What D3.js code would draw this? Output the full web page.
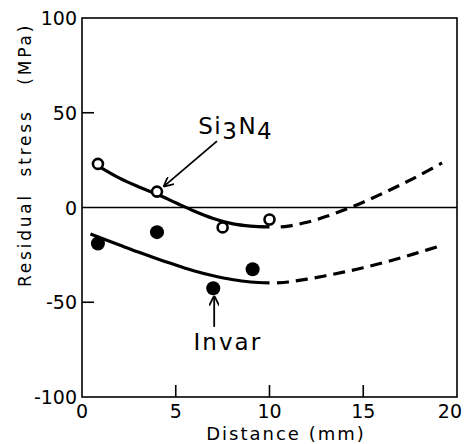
<!DOCTYPE html>
<html>
<head>
<meta charset="utf-8">
<script src="https://cdn.jsdelivr.net/npm/d3@7"></script>
<style>
  body { margin: 0; background: #fff; }
  text { font-family: 'DejaVu Sans', sans-serif; fill: #000; }
</style>
</head>
<body>
<div id="chart"></div>
<script>
const xTicks = [0, 5, 10, 15, 20];
const yTicks = [-100, -50, 0, 50, 100];

// measured points
const si3n4Points = [[0.85, 23], [4.0, 8.4], [7.5, -10.5], [10.0, -6.3]];
const invarPoints = [[0.85, -19], [4.0, -13], [7.0, -42.6], [9.1, -32.6]];

// fitted curves (solid = measured range, dashed = extrapolated)
const si3n4Solid = [[0.85, 22], [2, 15.5], [3, 11], [4, 7], [5, 2.5], [6, -2], [7, -5.8], [8, -8.5], [9, -9.8], [10, -10.2]];
const si3n4Dashed = [[10.6, -10.2], [11, -9.8], [12, -7.8], [13, -4.8], [14, -1.2], [15, 2.8], [16, 7.3], [17, 12], [18, 17], [19.2, 23.5]];
const invarSolid = [[0.45, -14], [2, -19.8], [3, -23.5], [4, -27], [5, -30.3], [6, -33.5], [7, -36], [8, -38], [9, -39.3], [10, -39.8]];
const invarDashed = [[10.4, -39.8], [11, -39.3], [12, -37.8], [13, -36], [14, -34], [15, -31.8], [16, -29.3], [17, -26.6], [18, -23.6], [19, -20.6]];

const width = 464, height = 444;
const margin = { left: 82, right: 7, top: 18, bottom: 47 };

const x = d3.scaleLinear().domain([0, 20]).range([margin.left, width - margin.right]);
const y = d3.scaleLinear().domain([-100, 100]).range([height - margin.bottom, margin.top]);

const svg = d3.select('#chart').append('svg')
  .attr('width', width)
  .attr('height', height);

// frame
svg.append('rect')
  .attr('x', x(0)).attr('y', y(100))
  .attr('width', x(20) - x(0)).attr('height', y(-100) - y(100))
  .attr('fill', 'none').attr('stroke', '#000').attr('stroke-width', 1.6);

// zero line
svg.append('line')
  .attr('x1', x(0)).attr('x2', x(20))
  .attr('y1', y(0)).attr('y2', y(0))
  .attr('stroke', '#000').attr('stroke-width', 1.5);

// inward ticks
svg.selectAll('.xtick')
  .data(xTicks.filter(d => d > 0 && d < 20))
  .enter().append('line')
  .attr('x1', d => x(d)).attr('x2', d => x(d))
  .attr('y1', y(-100)).attr('y2', y(-100) - 12)
  .attr('stroke', '#000').attr('stroke-width', 1.6);

svg.selectAll('.ytick')
  .data(yTicks.filter(d => d !== 0 && Math.abs(d) < 100))
  .enter().append('line')
  .attr('x1', x(0)).attr('x2', x(0) + 12)
  .attr('y1', d => y(d)).attr('y2', d => y(d))
  .attr('stroke', '#000').attr('stroke-width', 1.6);

// tick labels
svg.selectAll('.xlab')
  .data(xTicks)
  .enter().append('text')
  .attr('x', d => d === 20 ? width - 2 : x(d))
  .attr('y', y(-100) + 21)
  .attr('text-anchor', d => d === 20 ? 'end' : 'middle')
  .style('font-size', '19px')
  .text(d => d);

svg.selectAll('.ylab')
  .data(yTicks)
  .enter().append('text')
  .attr('x', x(0) - 5)
  .attr('y', d => y(d) + 7)
  .attr('text-anchor', 'end')
  .style('font-size', '19px')
  .text(d => d);

// axis titles
svg.append('text')
  .attr('x', 286)
  .attr('y', height - 4)
  .attr('text-anchor', 'middle')
  .style('font-size', '18px')
  .style('letter-spacing', '2px')
  .text('Distance (mm)');

svg.append('text')
  .attr('transform', 'translate(31,155) rotate(-90)')
  .attr('text-anchor', 'middle')
  .style('font-size', '17px')
  .style('letter-spacing', '2.8px')
  .style('white-space', 'pre')
  .text('Residual  stress   (MPa)');

// curves
const line = d3.line()
  .x(d => x(d[0]))
  .y(d => y(d[1]))
  .curve(d3.curveCatmullRom);

[si3n4Solid, invarSolid].forEach(s => {
  svg.append('path')
    .attr('d', line(s))
    .attr('fill', 'none').attr('stroke', '#000').attr('stroke-width', 3.2);
});

[si3n4Dashed, invarDashed].forEach(s => {
  svg.append('path')
    .attr('d', line(s))
    .attr('fill', 'none').attr('stroke', '#000').attr('stroke-width', 3.2)
    .attr('stroke-dasharray', '12,7');
});

// points
svg.selectAll('.open')
  .data(si3n4Points)
  .enter().append('circle')
  .attr('cx', d => x(d[0])).attr('cy', d => y(d[1]))
  .attr('r', 5)
  .attr('fill', '#fff').attr('stroke', '#000').attr('stroke-width', 2.6);

svg.selectAll('.filled')
  .data(invarPoints)
  .enter().append('circle')
  .attr('cx', d => x(d[0])).attr('cy', d => y(d[1]))
  .attr('r', 7)
  .attr('fill', '#000');

// annotations
svg.append('defs').append('marker')
  .attr('id', 'arrow')
  .attr('viewBox', '0 0 10 10')
  .attr('refX', 10).attr('refY', 5)
  .attr('markerWidth', 10).attr('markerHeight', 10)
  .attr('markerUnits', 'userSpaceOnUse')
  .attr('orient', 'auto')
  .append('path')
  .attr('d', 'M0,0 L10,5 L0,10')
  .attr('fill', 'none').attr('stroke', '#000').attr('stroke-width', 1.8);

const siLabel = svg.append('text')
  .attr('x', x(6.2)).attr('y', y(39))
  .style('font-size', '23px')
  .style('letter-spacing', '1.5px');
siLabel.append('tspan').text('Si');
siLabel.append('tspan').attr('dy', 5).text('3');
siLabel.append('tspan').attr('dy', -5).text('N');
siLabel.append('tspan').attr('dy', 5).text('4');

svg.append('line')
  .attr('x1', x(7.2)).attr('y1', y(35))
  .attr('x2', x(4.35)).attr('y2', y(11))
  .attr('stroke', '#000').attr('stroke-width', 1.8)
  .attr('marker-end', 'url(#arrow)');

svg.append('text')
  .attr('x', x(5.95)).attr('y', y(-75))
  .style('font-size', '23px')
  .style('letter-spacing', '2px')
  .text('Invar');

svg.append('line')
  .attr('x1', x(7.05)).attr('y1', y(-63))
  .attr('x2', x(7.05)).attr('y2', y(-46.5))
  .attr('stroke', '#000').attr('stroke-width', 1.8)
  .attr('marker-end', 'url(#arrow)');
</script>
</body>
</html>
